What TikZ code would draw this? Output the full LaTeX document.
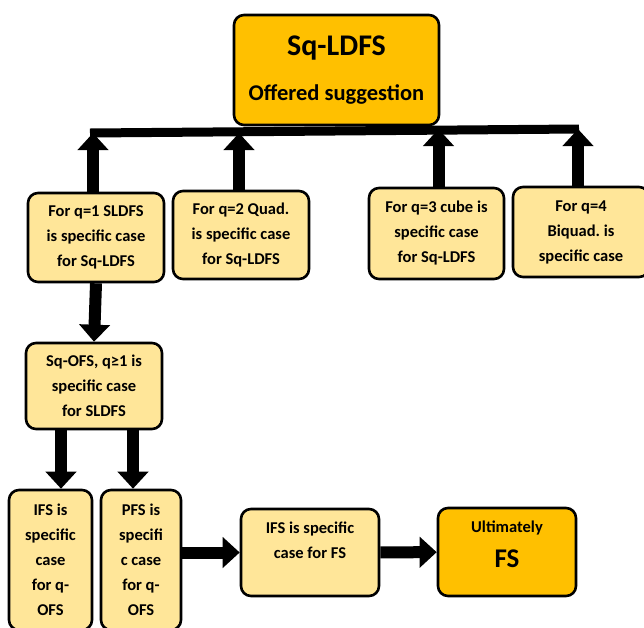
\documentclass[tikz,border=0pt]{standalone}
\usepackage{fontspec}
\setmainfont{Carlito}
\usetikzlibrary{arrows.meta}
\definecolor{goldorange}{HTML}{FFC000}
\definecolor{paleyellow}{HTML}{FFE699}
\tikzset{
  caso/.style={
    rounded corners=10pt,
    draw=black,
    line width=2.6pt,
    fill=paleyellow,
    align=center,
    inner sep=3pt,
    font=\fontsize{16.5}{25}\selectfont\bfseries\frenchspacing
  },
  meta/.style={
    caso,
    fill=goldorange
  },
  flecha/.style={
    -{Triangle[width=30pt,length=17pt]},
    line width=12pt,
    black
  },
  barra/.style={
    line width=9pt,
    black
  }
}

\begin{document}
\begin{tikzpicture}[x=1pt,y=-1pt]
\clip (0,0) rectangle (644,627);
\fill[white] (0,0) rectangle (644,627);

% propuesta principal
\node[meta, minimum width=205pt, minimum height=110pt] (top) at (336.5,70)
  {{\fontsize{30}{32}\selectfont Sq-LDFS}\\[20pt]{\fontsize{22.5}{24}\selectfont Offered suggestion}};
\coordinate (barL) at (90,133);
\coordinate (barR) at (579,129);
\draw[barra] (barL) -- (barR);

% casos particulares
\node[caso, minimum width=136pt, minimum height=89pt] (q1) at (96,237.5) {For q=1 SLDFS\\is specific case\\for Sq-LDFS};
\node[caso, minimum width=136pt, minimum height=88pt] (q2) at (241,235) {For q=2 Quad.\\is specific case\\for Sq-LDFS};
\node[caso, minimum width=135pt, minimum height=91pt] (q3) at (436.5,233.5) {For q=3 cube is\\specific case\\for Sq-LDFS};
\node[caso, minimum width=136pt, minimum height=90pt] (q4) at (581,232) {For q=4\\Biquad. is\\specific case};

\node[caso, minimum width=136pt, minimum height=86pt] (sq) at (94,386) {Sq-OFS, q≥1 is\\specific case\\for SLDFS};
\node[caso, minimum width=83pt, minimum height=140pt] (ifs) at (50.5,560) {IFS is\\specific\\case\\for q-\\OFS};
\node[caso, minimum width=80pt, minimum height=140pt] (pfs) at (141,560) {PFS is\\specifi\\c case\\for q-\\OFS};
\node[caso, minimum width=138pt, minimum height=87pt] (fs) at (310,552.5) {IFS is specific\\case for FS\\\phantom{x}};
\node[meta, minimum width=138pt, minimum height=88pt] (ult) at (507,552)
  {Ultimately\\[10pt]{\fontsize{27}{28}\selectfont FS}\\[-12pt]{\fontsize{8}{8}\selectfont\strut}};

% flechas
\draw[flecha] ([xshift=-3pt]q1.north) -- ([xshift=-3pt]q1.north |- barL);
\draw[flecha] ([xshift=-2pt]q2.north) -- ([xshift=-2pt]q2.north |- barL);
\draw[flecha] ([xshift=2pt]q3.north) -- ([xshift=2pt]q3.north |- barR);
\draw[flecha] ([xshift=-3pt]q4.north) -- ([xshift=-3pt]q4.north |- barR);
\draw[flecha] (q1.south) -- (sq.north);
\draw[flecha] ([xshift=-33pt]sq.south) -- ([xshift=-33pt]sq.south |- ifs.north);
\draw[flecha] ([xshift=39pt]sq.south) -- ([xshift=39pt]sq.south |- pfs.north);
\draw[flecha] (pfs.east |- fs.west) -- (fs.west);
\draw[flecha] (fs) -- (ult);
\end{tikzpicture}
\end{document}
